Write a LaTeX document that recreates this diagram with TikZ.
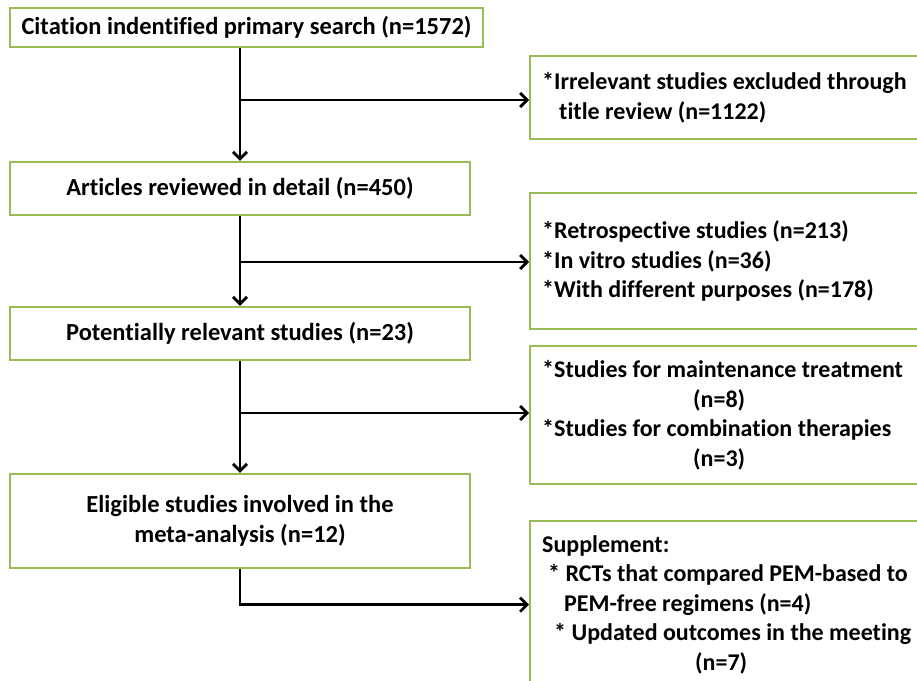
\documentclass[tikz,border=0pt]{standalone}
\usepackage{fontspec}
\setmainfont{Carlito}[Ligatures=CommonOff]
\usetikzlibrary{arrows.meta}
\definecolor{boxgreen}{RGB}{155,187,89}

\begin{document}
\begin{tikzpicture}[x=1pt,y=-1pt,
    box/.style={draw=boxgreen, line width=2.4pt, fill=white, inner sep=0pt,
      font=\bfseries\fontsize{24.5}{29.5}\selectfont},
    sidebox/.style={box, anchor=north west, minimum width=420pt, inner xsep=12pt,
      text width=396pt, align=flush left, font=\bfseries\fontsize{24}{29.5}\selectfont},
    flow/.style={line width=2.8pt, -{Straight Barb[length=7pt,width=14pt,line width=2.8pt]}}]
  \useasboundingbox (0,0) rectangle (917,680);
  \clip (0,0) rectangle (917,680);
  % main column
  \node[box, minimum width=473pt, minimum height=39pt] (cite) at (246.5,27.5) {Citation indentified primary search (n=1572)};
  \node[box, minimum width=460pt, minimum height=53pt] (detail) at (240,188.5) {Articles reviewed in detail (n=450)};
  \node[box, minimum width=460pt, minimum height=53pt] (relev) at (240,333.5) {Potentially relevant studies (n=23)};
  \node[box, minimum width=460pt, minimum height=94pt, align=center] (elig) at (240,521) {Eligible studies involved in the\\meta-analysis (n=12)};
  % excluded / supplement column
  \node[sidebox, minimum height=83pt] (excl1) at (529,55) {*Irrelevant studies excluded through\\\hspace*{17pt}title review (n=1122)};
  \node[sidebox, minimum height=136pt] (excl2) at (529,192) {*Retrospective studies (n=213)\\{}*In vitro studies (n=36)\\{}*With different purposes (n=178)};
  \node[sidebox, minimum height=138pt] (excl3) at (529,345) {*Studies for maintenance treatment\\\hspace*{151pt}(n=8)\\{}*Studies for combination therapies\\\hspace*{151pt}(n=3)};
  \node[sidebox, minimum height=167pt] (supp) at (529,520) {Supplement:\\\hspace*{6pt}* RCTs that compared PEM-based to\\\hspace*{22pt}PEM-free regimens (n=4)\\\hspace*{12pt}* Updated outcomes in the meeting\\\hspace*{153pt}(n=7)};
  % connectors
  \coordinate (j1) at (240,100);
  \coordinate (j2) at (240,262);
  \coordinate (j3) at (240,413);
  \draw[flow] (cite.south -| detail.north) -- (detail.north);
  \draw[flow] (j1) -- (j1 -| excl1.west);
  \draw[flow] (detail.south) -- (relev.north);
  \draw[flow] (j2) -- (j2 -| excl2.west);
  \draw[flow] (relev.south) -- (elig.north);
  \draw[flow] (j3) -- (j3 -| excl3.west);
  \draw[flow] (elig.south) |- (supp.west);
\end{tikzpicture}
\end{document}
